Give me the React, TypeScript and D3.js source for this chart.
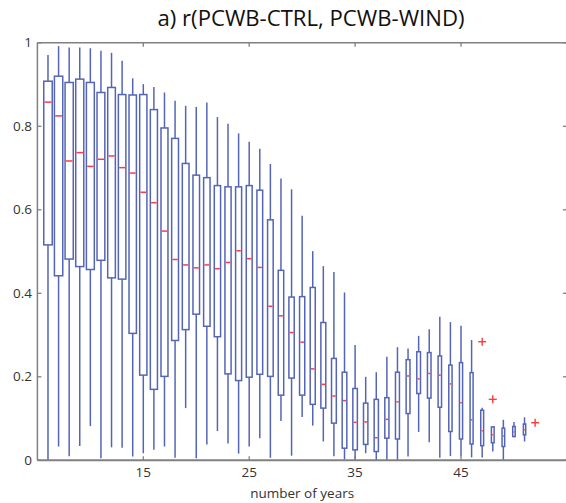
import React from "react";
import * as d3 from "d3";

const years = [6,7,8,9,10,11,12,13,14,15,16,17,18,19,20,21,22,23,24,25,26,27,28,29,30,31,32,33,34,35,36,37,38,39,40,41,42,43,44,45,46,47,48,49,50,51];
const whiskerLow = [0.0,0.033,0.010,0.034,0.082,0.005,0.031,0.030,0.009,0.017,0.025,0.033,0.006,0.125,0.005,0.038,0.070,0.040,0.016,0.033,0.053,0.006,0.094,0.011,0.104,0.083,0.045,0.010,0.002,0.0,0.017,0.0,0.0,0.0,0.009,0.068,0.043,0.006,0.010,0.009,0.007,0.007,0.021,0.0,0.055,0.045];
const q1 = [0.516,0.442,0.482,0.464,0.457,0.479,0.437,0.434,0.304,0.204,0.170,0.201,0.287,0.313,0.350,0.321,0.296,0.207,0.191,0.199,0.206,0.201,0.156,0.197,0.156,0.134,0.125,0.089,0.029,0.025,0.038,0.021,0.053,0.051,0.112,0.160,0.149,0.127,0.069,0.051,0.039,0.035,0.042,0.033,0.057,0.061];
const median = [0.858,0.825,0.717,0.737,0.704,0.721,0.729,0.701,0.688,0.642,0.617,0.549,0.481,0.468,0.461,0.468,0.459,0.474,0.502,0.483,0.462,0.369,0.346,0.306,0.283,0.219,0.182,0.154,0.143,0.091,0.092,0.054,0.098,0.140,0.202,0.195,0.208,0.204,0.183,0.138,0.097,0.071,0.061,0.058,0.068,0.073];
const q3 = [0.908,0.920,0.905,0.913,0.905,0.881,0.893,0.876,0.875,0.876,0.840,0.796,0.771,0.711,0.683,0.677,0.658,0.655,0.655,0.658,0.647,0.576,0.455,0.391,0.392,0.414,0.330,0.244,0.211,0.172,0.137,0.146,0.150,0.211,0.241,0.260,0.258,0.250,0.228,0.234,0.210,0.120,0.080,0.077,0.081,0.087];
const whiskerHigh = [0.971,0.992,0.989,0.989,0.987,0.981,0.976,0.957,0.915,0.901,0.894,0.881,0.861,0.849,0.846,0.857,0.822,0.806,0.783,0.763,0.746,0.710,0.675,0.649,0.586,0.501,0.465,0.451,0.402,0.276,0.200,0.211,0.248,0.271,0.268,0.298,0.314,0.344,0.331,0.322,0.288,0.126,0.082,0.097,0.092,0.103];
const outlierYears = [47, 48, 52];
const outlierValues = [0.284, 0.146, 0.090];

const xTicks = [15, 25, 35, 45];
const yTicks = [0, 0.2, 0.4, 0.6, 0.8, 1];
const yTickLabels = ["0", "0.2", "0.4", "0.6", "0.8", "1"];
const title = "a) r(PCWB-CTRL, PCWB-WIND)";
const xLabel = "number of years";

export default function App() {
  const W = 566, H = 503;
  const left = 37.4, right = 566.9, top = 42.8, bottom = 460.3;
  const x = d3.scaleLinear().domain([5, 55]).range([left, right]);
  const y = d3.scaleLinear().domain([0, 1]).range([bottom, top]);
  const boxW = d3.scaleLinear().domain([6, 51]).range([0.8, 0.22]);
  const blue = "#5565b6";
  const red = "#ff3b3b";
  const axisCol = "#808080";
  const font = "'Open Sans', 'DejaVu Sans', sans-serif";
  const tickLen = 4;

  return (
    <svg width={W} height={H} style={{ position: "absolute", left: 0, top: 0, background: "#fff" }}>
      <rect x={0} y={0} width={W} height={H} fill="#fff" />
      {years.map((yr, i) => {
        const cx = x(yr);
        const hw = (x(yr + boxW(yr)) - x(yr)) / 2;
        return (
          <g key={yr}>
            <line x1={cx} x2={cx} y1={y(whiskerHigh[i])} y2={y(q3[i])} stroke={blue} strokeWidth={1.5} />
            <line x1={cx} x2={cx} y1={y(q1[i])} y2={y(whiskerLow[i])} stroke={blue} strokeWidth={1.5} />
            <rect x={cx - hw} y={y(q3[i])} width={2 * hw} height={Math.max(0.5, y(q1[i]) - y(q3[i]))} fill="#fff" stroke={blue} strokeWidth={1.5} />
            <line x1={cx - hw + 0.8} x2={cx + hw - 0.8} y1={y(median[i])} y2={y(median[i])} stroke={red} strokeWidth={1.5} />
          </g>
        );
      })}
      {outlierYears.map((yr, i) => {
        const cx = x(yr), cy = y(outlierValues[i]);
        return (
          <g key={"o" + i} stroke={red} strokeWidth={1.4}>
            <line x1={cx - 4} x2={cx + 4} y1={cy} y2={cy} />
            <line x1={cx} x2={cx} y1={cy - 4} y2={cy + 4} />
          </g>
        );
      })}
      <line x1={left} x2={right} y1={top} y2={top} stroke={axisCol} strokeWidth={1.5} />
      <line x1={left} x2={right} y1={bottom} y2={bottom} stroke={axisCol} strokeWidth={2} />
      <line x1={left} x2={left} y1={top} y2={bottom} stroke={axisCol} strokeWidth={1.5} />
      <line x1={right} x2={right} y1={top} y2={bottom} stroke={axisCol} strokeWidth={1.5} />
      {xTicks.map((t) => (
        <g key={"xt" + t}>
          <line x1={x(t)} x2={x(t)} y1={bottom} y2={bottom - tickLen} stroke={axisCol} strokeWidth={1.3} />
          <line x1={x(t)} x2={x(t)} y1={top} y2={top + tickLen} stroke={axisCol} strokeWidth={1.3} />
          <text x={x(t)} y={477} textAnchor="middle" fontFamily={font} fontSize={13.5} fill="#333">{t}</text>
        </g>
      ))}
      {yTicks.map((t, i) => (
        <g key={"yt" + t}>
          <line x1={left} x2={left + tickLen} y1={y(t)} y2={y(t)} stroke={axisCol} strokeWidth={1.3} />
          <line x1={right} x2={right - tickLen} y1={y(t)} y2={y(t)} stroke={axisCol} strokeWidth={1.3} />
          <text x={32} y={y(t) + 4.5} textAnchor="end" fontFamily={font} fontSize={13.5} fill="#333">{yTickLabels[i]}</text>
        </g>
      ))}
      <text x={311} y={26} textAnchor="middle" fontFamily={font} fontSize={21} fill="#111" textLength={307} lengthAdjust="spacingAndGlyphs">{title}</text>
      <text x={x(30)} y={498} textAnchor="middle" fontFamily={font} fontSize={13.5} fill="#333">{xLabel}</text>
    </svg>
  );
}
